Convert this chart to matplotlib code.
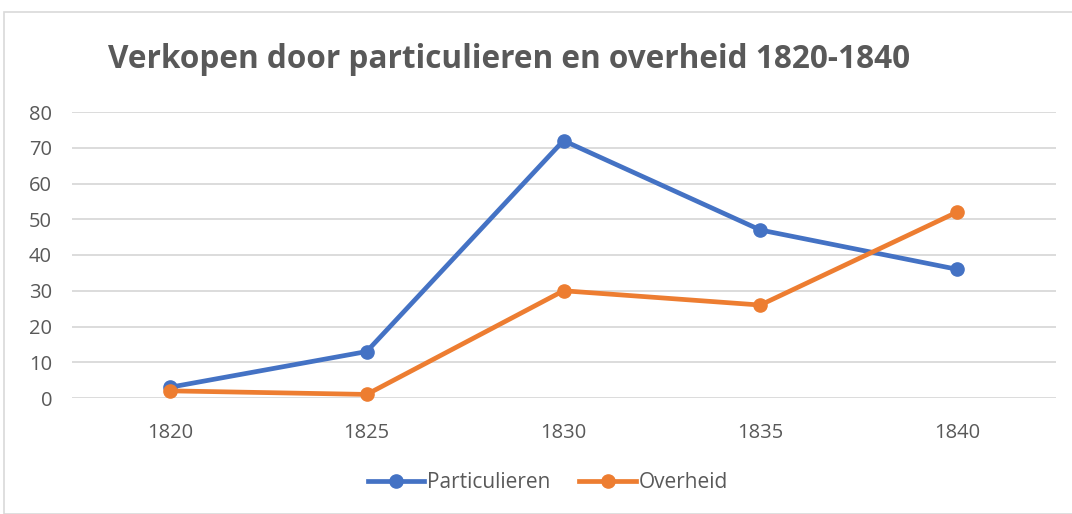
import matplotlib.pyplot as plt
from matplotlib.patches import Rectangle

years = ['1820', '1825', '1830', '1835', '1840']
particulieren = [3, 13, 72, 47, 36]
overheid = [2, 1, 30, 26, 52]

plt.rcParams['font.family'] = ['Open Sans', 'DejaVu Sans']
grey = '#595959'

fig = plt.figure(figsize=(10.72, 5.14), dpi=100)
ax = fig.add_axes([71.5 / 1072, 1 - 398 / 514, (1055.5 - 71.5) / 1072, (398 - 112) / 514])

x = range(len(years))
ax.plot(x, particulieren, color='#4472C4', lw=3.4, marker='o', ms=9.5, label='Particulieren')
ax.plot(x, overheid, color='#ED7D31', lw=3.4, marker='o', ms=9.5, label='Overheid')

ax.set_xlim(-0.5, 4.5)
ax.set_ylim(0, 80)
ax.set_yticks(range(0, 81, 10))
ax.set_xticks(list(x))
ax.set_xticklabels(years)
ax.grid(axis='y', color='#D9D9D9', lw=1.3)
ax.set_axisbelow(True)
for s in ax.spines.values():
    s.set_visible(False)
ax.tick_params(length=0, colors=grey, labelsize=14.5)
ax.tick_params(axis='x', pad=18)
ax.tick_params(axis='y', pad=14)
for ln in ax.lines:
    ln.set_clip_on(False)

fig.text(108 / 1072, 1 - 59 / 514, 'Verkopen door particulieren en overheid 1820-1840',
         fontsize=22.7, fontweight='bold', color=grey, va='center', ha='left')

fig.legend(loc='center', bbox_to_anchor=(0.511, 1 - 483 / 514), ncol=2, frameon=False,
           fontsize=15, labelcolor=grey, handlelength=2.7, handletextpad=0.15,
           columnspacing=1.4)

fig.patches.append(Rectangle((4 / 1072, 0), 1.1, 1 - 12 / 514, transform=fig.transFigure,
                             fill=False, edgecolor='#D9D9D9', lw=1.2))

fig.savefig('out.png', dpi=100)
